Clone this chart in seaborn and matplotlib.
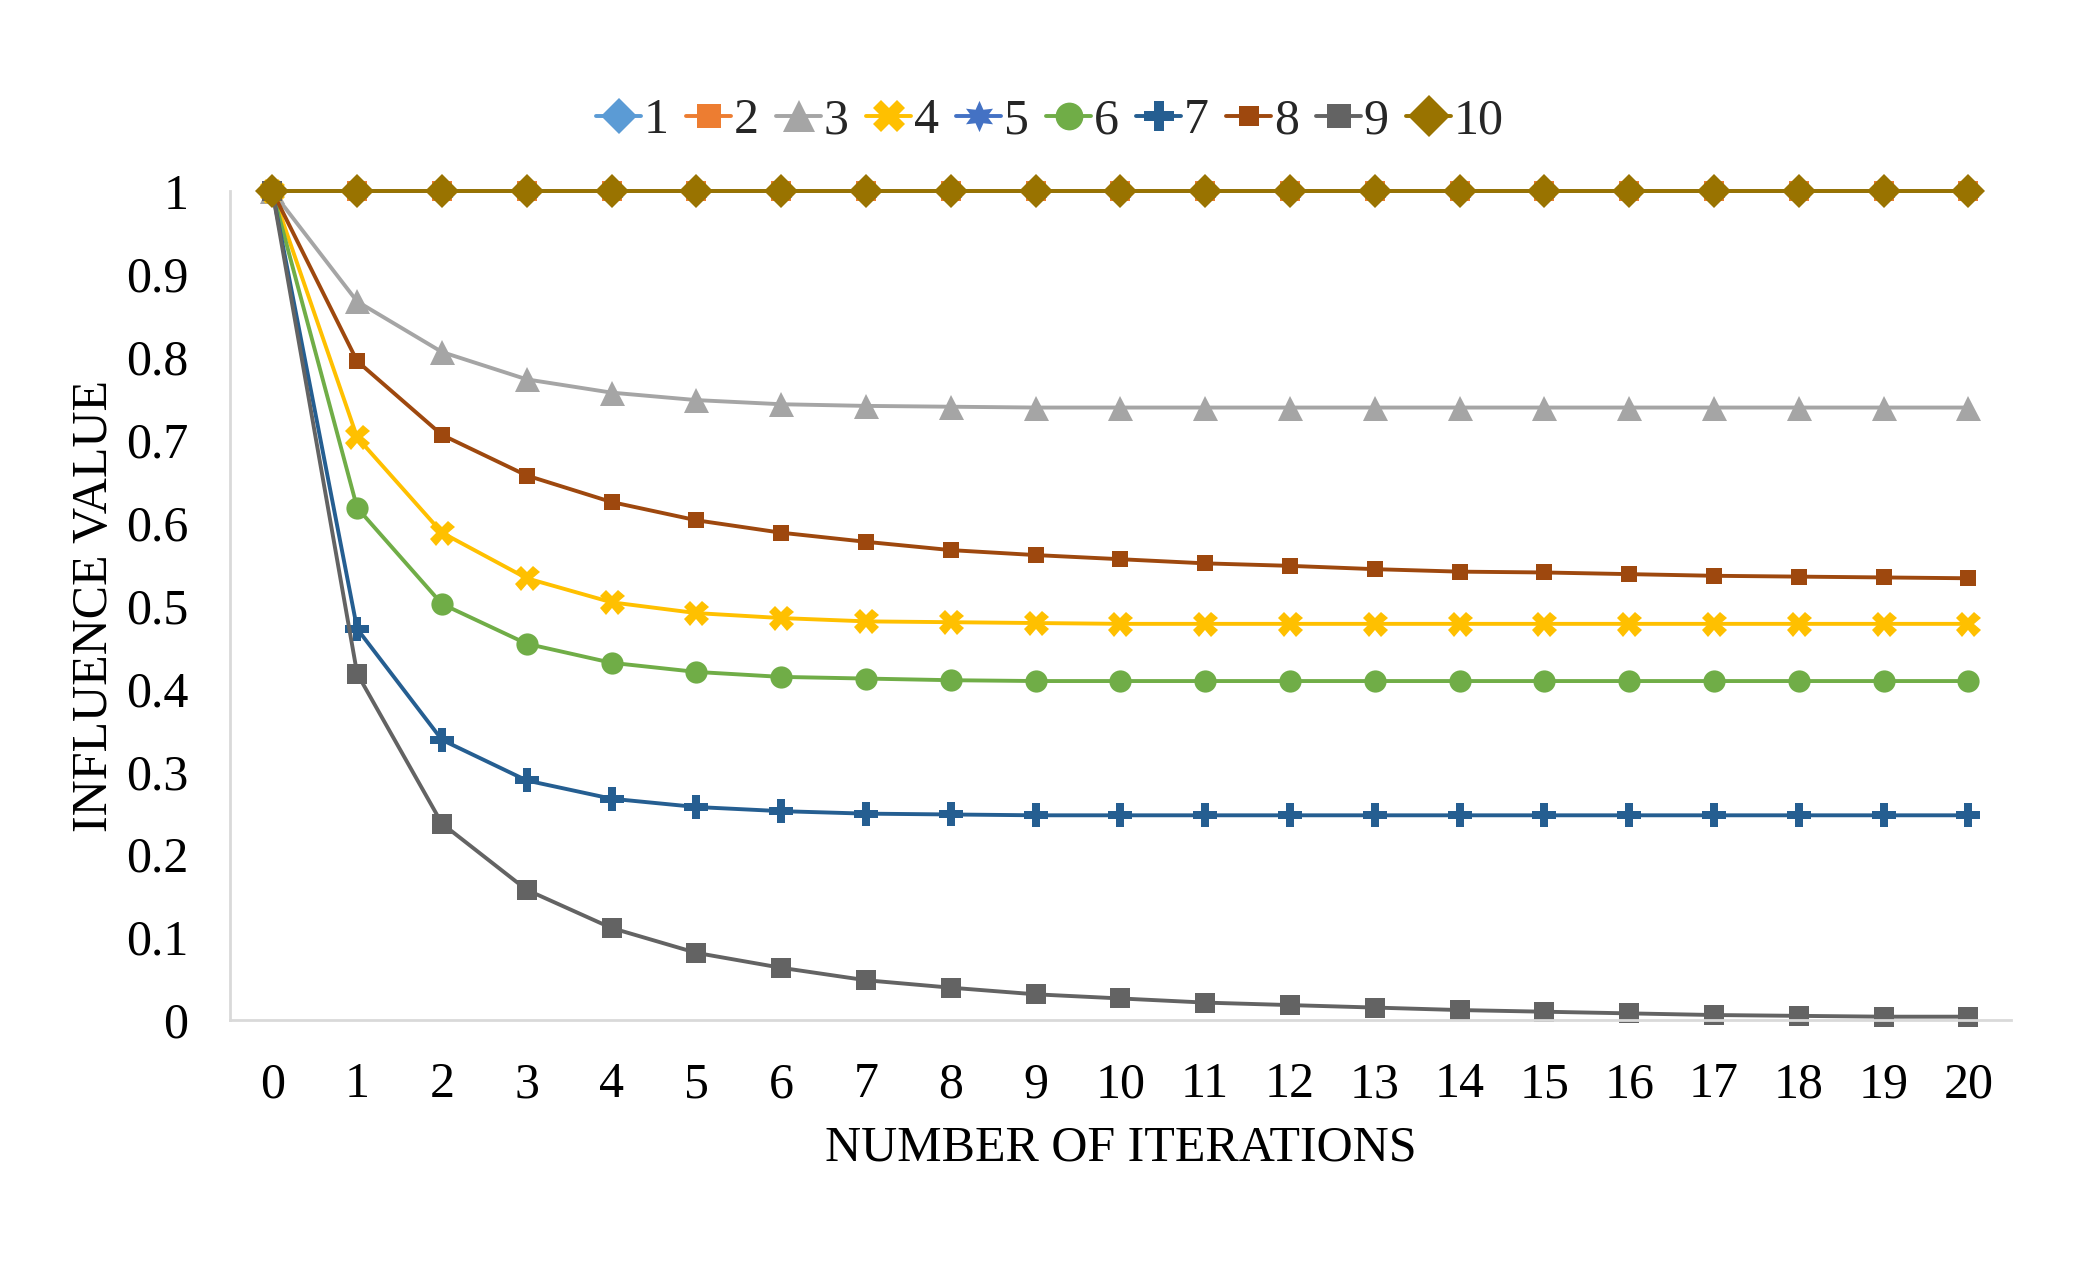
import numpy as np
import pandas as pd
import matplotlib
matplotlib.use("Agg")
import matplotlib.pyplot as plt
import seaborn as sns

iterations = list(range(21))
series_names = ["1", "2", "3", "4", "5", "6", "7", "8", "9", "10"]

s1 = [1.0] * 21
s2 = [1.0] * 21
s3 = [1.0, 0.867, 0.806, 0.773, 0.757, 0.748, 0.743, 0.741, 0.740, 0.739, 0.739,
      0.739, 0.739, 0.739, 0.739, 0.739, 0.739, 0.739, 0.739, 0.739, 0.739]
s4 = [1.0, 0.703, 0.588, 0.533, 0.504, 0.491, 0.485, 0.481, 0.480, 0.479, 0.478,
      0.478, 0.478, 0.478, 0.478, 0.478, 0.478, 0.478, 0.478, 0.478, 0.478]
s5 = [1.0] * 21
s6 = [1.0, 0.618, 0.502, 0.454, 0.431, 0.420, 0.414, 0.412, 0.410, 0.409, 0.409,
      0.409, 0.409, 0.409, 0.409, 0.409, 0.409, 0.409, 0.409, 0.409, 0.409]
s7 = [1.0, 0.472, 0.338, 0.289, 0.267, 0.257, 0.252, 0.249, 0.248, 0.247, 0.247,
      0.247, 0.247, 0.247, 0.247, 0.247, 0.247, 0.247, 0.247, 0.247, 0.247]
s8 = [1.0, 0.795, 0.706, 0.657, 0.625, 0.603, 0.588, 0.577, 0.567, 0.561, 0.556,
      0.551, 0.548, 0.544, 0.541, 0.540, 0.538, 0.536, 0.535, 0.534, 0.533]
s9 = [1.0, 0.418, 0.237, 0.157, 0.111, 0.081, 0.063, 0.048, 0.039, 0.031, 0.026,
      0.021, 0.018, 0.015, 0.012, 0.010, 0.008, 0.006, 0.005, 0.004, 0.004]
s10 = [1.0] * 21

all_series = [s1, s2, s3, s4, s5, s6, s7, s8, s9, s10]

colors = ["#5B9BD5", "#ED7D31", "#A5A5A5", "#FFC000", "#4472C4",
          "#70AD47", "#255E91", "#9E480E", "#636363", "#997300"]
markers = ["D", "s", "^", "X", (6, 1, 0), "o", "P", "s", "s", "D"]
msizes = [15, 14, 18, 18, 18, 16, 17, 12, 14, 17]

df = pd.DataFrame({
    "iteration": np.tile(iterations, len(series_names)),
    "value": np.concatenate(all_series),
    "series": np.repeat(series_names, len(iterations)),
})

sns.set_theme(style="white")
plt.rcParams["font.family"] = ["Liberation Serif", "DejaVu Serif"]

fig = plt.figure(figsize=(21, 12.75), dpi=100)
ax = fig.add_axes([0.1095, 0.2, 0.848, 0.65])

for name, col, mk, ms in zip(series_names, colors, markers, msizes):
    sub = df[df["series"] == name]
    sns.lineplot(data=sub, x="iteration", y="value", ax=ax, color=col,
                 marker=mk, markersize=ms, markeredgewidth=0, linewidth=2.8,
                 label=name, clip_on=False, estimator=None)

ax.set_xlim(-0.5, 20.5)
ax.set_ylim(0, 1)
ax.set_xticks(iterations)
ax.set_xticklabels([str(i) for i in iterations])
ax.set_yticks([0, 0.1, 0.2, 0.3, 0.4, 0.5, 0.6, 0.7, 0.8, 0.9, 1.0])
ax.set_yticklabels(["0", "0.1", "0.2", "0.3", "0.4", "0.5", "0.6", "0.7", "0.8", "0.9", "1"])
ax.tick_params(axis="both", labelsize=36, length=0, colors="black")
ax.tick_params(axis="y", pad=30)
ax.tick_params(axis="x", pad=30)

for side in ["top", "right"]:
    ax.spines[side].set_visible(False)
for side in ["left", "bottom"]:
    ax.spines[side].set_color("#D9D9D9")
    ax.spines[side].set_linewidth(2)

ax.set_xlabel("NUMBER OF ITERATIONS", fontsize=36, labelpad=12, color="black")
ax.set_ylabel("INFLUENCE VALUE", fontsize=36, labelpad=6, color="black")

ax.get_legend().remove()
handles, labels = ax.get_legend_handles_labels()
fig.legend(handles, labels, loc="center", bbox_to_anchor=(0.5, 0.905), ncol=10,
           frameon=False, fontsize=36, handlelength=0.9, handletextpad=0.05,
           columnspacing=0.35, borderaxespad=0, markerscale=1.25)

fig.savefig("out.png", dpi=100, facecolor="white")
